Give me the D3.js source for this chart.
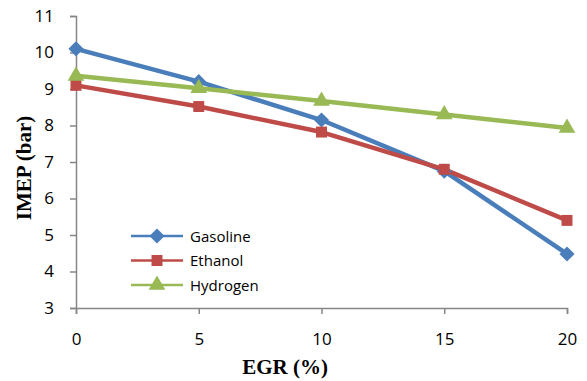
<!DOCTYPE html>
<html>
<head>
<meta charset="utf-8">
<script src="https://cdn.jsdelivr.net/npm/d3@7"></script>
<style>
  html, body { margin: 0; padding: 0; background: #fff; }
  svg { display: block; }
</style>
</head>
<body>
<svg id="chart" width="587" height="381"></svg>
<script>
// EGR rate (%) and IMEP (bar) for each fuel
const egr = [0, 5, 10, 15, 20];
const gasoline = [10.1, 9.2, 8.15, 6.75, 4.48];
const ethanol = [9.1, 8.52, 7.82, 6.8, 5.4];
const hydrogen = [9.36, 9.02, 8.67, 8.3, 7.93];
const yTicks = [3, 4, 5, 6, 7, 8, 9, 10, 11];
const xTicks = [0, 5, 10, 15, 20];

const series = [
  { name: "Gasoline", values: gasoline, color: "#4a7ebb", marker: "diamond" },
  { name: "Ethanol", values: ethanol, color: "#be4b48", marker: "square" },
  { name: "Hydrogen", values: hydrogen, color: "#98b954", marker: "triangle" }
];

const svg = d3.select("#chart");
const x = d3.scaleLinear().domain([0, 20]).range([76, 567]);
const y = d3.scaleLinear().domain([3, 11]).range([308, 16]);

const axisColor = "#868686";
const tickFont = "'Open Sans', 'Liberation Sans', sans-serif";

// y axis
const yAxis = svg.append("g").attr("transform", `translate(${x(0)},0)`)
  .call(d3.axisLeft(y).tickValues(yTicks).tickSize(6).tickPadding(16).tickFormat(d3.format("d")));
// x axis
const xAxis = svg.append("g").attr("transform", `translate(0,${y(3)})`)
  .call(d3.axisBottom(x).tickValues(xTicks).tickSize(6).tickPadding(19).tickFormat(d3.format("d")));

[yAxis, xAxis].forEach(g => {
  g.select(".domain").attr("stroke", axisColor).attr("stroke-width", 1.5);
  g.selectAll(".tick line").attr("stroke", axisColor).attr("stroke-width", 1.5);
  g.selectAll(".tick text").attr("fill", "#000").style("font-family", tickFont).style("font-size", "17px");
});

// axis titles
svg.append("text")
  .attr("x", 285).attr("y", 374)
  .attr("text-anchor", "middle")
  .style("font-family", "'Liberation Serif', serif").style("font-weight", "bold").style("font-size", "21px")
  .text("EGR (%)");
svg.append("text")
  .attr("transform", `translate(31,${168}) rotate(-90)`)
  .attr("text-anchor", "middle")
  .style("font-family", "'Liberation Serif', serif").style("font-weight", "bold").style("font-size", "21px")
  .text("IMEP (bar)");

// markers: diamond is a square turned 45 degrees
const squareSym = d3.symbol().type(d3.symbolSquare).size(120);
const markerFor = {
  diamond: { d: d3.symbol().type(d3.symbolSquare).size(115)(), rot: 45 },
  square: { d: squareSym(), rot: 0 },
  triangle: { d: d3.symbol().type(d3.symbolTriangle).size(120)(), rot: 0 }
};

const line = d3.line().x((d, i) => x(egr[i])).y(d => y(d));

// lines first, then markers on top
series.forEach(s => {
  svg.append("path").datum(s.values)
    .attr("d", line).attr("fill", "none")
    .attr("stroke", s.color).attr("stroke-width", 4.5)
    .attr("stroke-linejoin", "round");
});
series.forEach(s => {
  const m = markerFor[s.marker];
  svg.append("g").selectAll("path").data(s.values).join("path")
    .attr("d", m.d)
    .attr("transform", (d, i) => `translate(${x(egr[i])},${y(d)}) rotate(${m.rot})`)
    .attr("fill", s.color);
});

// legend
const legend = svg.append("g");
series.forEach((s, i) => {
  const ly = 236 + i * 24.5;
  const m = markerFor[s.marker];
  legend.append("line").attr("x1", 131).attr("x2", 183).attr("y1", ly).attr("y2", ly)
    .attr("stroke", s.color).attr("stroke-width", 2.5);
  legend.append("path").attr("d", m.d)
    .attr("transform", `translate(157,${ly}) rotate(${m.rot})`).attr("fill", s.color);
  legend.append("text").attr("x", 190).attr("y", ly + 5.5)
    .style("font-family", tickFont).style("font-size", "15px")
    .text(s.name);
});
</script>
</body>
</html>
